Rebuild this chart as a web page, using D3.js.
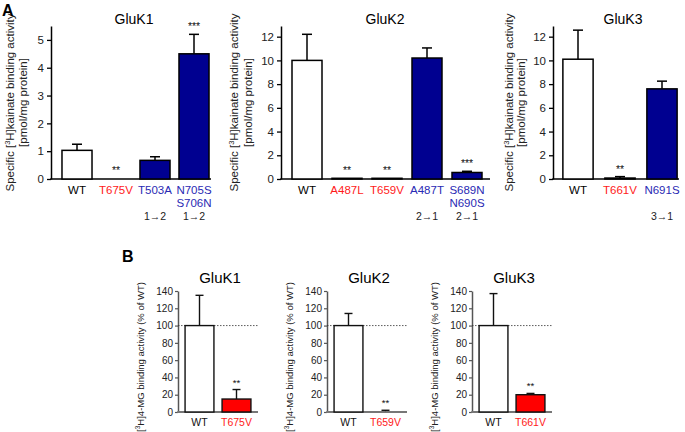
<!DOCTYPE html>
<html><head><meta charset="utf-8">
<script src="https://cdn.jsdelivr.net/npm/d3@7/dist/d3.min.js"></script>
<style>body{margin:0;background:#fff}svg{display:block}text{font-family:Arial,"Liberation Sans",sans-serif}</style>
</head><body><svg id="c" width="685" height="432"></svg>
<script>
// ---- Panel A data ----
const k1Cats = ["WT", "T675V", "T503A", "N705S|S706N"];
const k1Vals = [1.03, 0, 0.67, 4.5];
const k1Errs = [1.25, 0, 0.8, 5.2];
const k1Sig = ["", "**", "", "***"];
const k1Swap = ["", "", "1→2", "1→2"];
const k1Kind = ["wt", "red", "blue", "blue"];

const k2Cats = ["WT", "A487L", "T659V", "A487T", "S689N|N690S"];
const k2Vals = [10.0, 0.06, 0.06, 10.2, 0.55];
const k2Errs = [12.2, 0.06, 0.06, 11.05, 0.65];
const k2Sig = ["", "**", "**", "", "***"];
const k2Swap = ["", "", "", "2→1", "2→1"];
const k2Kind = ["wt", "red", "red", "blue", "blue"];

const k3Cats = ["WT", "T661V", "N691S"];
const k3Vals = [10.1, 0.08, 7.6];
const k3Errs = [12.55, 0.2, 8.25];
const k3Sig = ["", "**", ""];
const k3Swap = ["", "", "3→1"];
const k3Kind = ["wt", "red", "blue"];

const aTicks1 = [0, 1, 2, 3, 4, 5];
const aTicks23 = [0, 2, 4, 6, 8, 10, 12];

// ---- Panel B data ----
const bCats1 = ["WT", "T675V"], bVals1 = [100, 15], bErrs1 = [135, 26], bSig1 = ["", "**"];
const bCats2 = ["WT", "T659V"], bVals2 = [100, 1], bErrs2 = [114, 2], bSig2 = ["", "**"];
const bCats3 = ["WT", "T661V"], bVals3 = [100, 20], bErrs3 = [137, 21.5], bSig3 = ["", "**"];
const bTicks = [0, 20, 40, 60, 80, 100, 120, 140];

const svg = d3.select("#c");
const RED = "#ff1a1a", BLUE = "#2a2ab4", NAVY = "#000090";
const labelColor = k => k === "red" ? RED : k === "blue" ? BLUE : "#000";

function stars(g, cx, yy, s, fs) {
  g.append("text").attr("transform", `translate(${cx},${yy}) rotate(0.01)`).attr("text-anchor", "middle")
    .attr("font-size", fs).attr("fill", "#111").text(s);
}

function panelA(o) {
  const g = svg.append("g");
  const y = d3.scaleLinear().domain([0, o.max]).range([179, 26]);
  const x = d3.scaleBand().domain(o.cats).range([o.r0, o.r1]).paddingInner(o.pad).paddingOuter(o.pad / 2);
  const ax = d3.axisLeft(y).tickValues(o.ticks).tickFormat(d3.format("d")).tickSize(4).tickPadding(3).tickSizeOuter(0);
  const ya = g.append("g").attr("transform", `translate(${o.ax},0)`).call(ax);
  ya.select(".domain").attr("stroke", "#000").attr("stroke-width", 1.5);
  ya.selectAll(".tick line").attr("stroke", "#000").attr("stroke-width", 1.3);
  ya.selectAll(".tick text").attr("font-size", 11.5).attr("fill", "#222");
  g.append("line").attr("x1", o.ax - 0.75).attr("x2", o.xEnd).attr("y1", y(0)).attr("y2", y(0))
    .attr("stroke", "#000").attr("stroke-width", 1.5);
  o.cats.forEach((c, i) => {
    const v = o.vals[i], e = o.errs[i], cx = x(c) + x.bandwidth() / 2;
    if (v > 0) {
      g.append("rect").attr("x", x(c)).attr("width", x.bandwidth())
        .attr("y", y(v)).attr("height", y(0) - y(v))
        .attr("fill", o.kind[i] === "wt" ? "#fff" : NAVY).attr("stroke", "#000").attr("stroke-width", 1.5);
    }
    if (e > v) {
      g.append("line").attr("x1", cx).attr("x2", cx).attr("y1", y(v)).attr("y2", y(e)).attr("stroke", "#000").attr("stroke-width", 1.5);
      g.append("line").attr("x1", cx - 5).attr("x2", cx + 5).attr("y1", y(e)).attr("y2", y(e)).attr("stroke", "#000").attr("stroke-width", 1.5);
    }
    if (o.sig[i]) stars(g, cx, Math.min(y(e), y(0) - 1) - 4, o.sig[i], 10.5);
    const lines = c.split("|");
    lines.forEach((t, j) => {
      g.append("text").attr("x", cx).attr("y", 194 + j * 13).attr("text-anchor", "middle")
        .attr("font-size", 11.5).attr("fill", labelColor(o.kind[i])).text(t);
    });
    if (o.swap[i]) {
      g.append("text").attr("x", cx).attr("y", 220).attr("text-anchor", "middle")
        .attr("font-size", 10.5).attr("fill", "#222").text(o.swap[i]);
    }
  });
  g.append("text").attr("x", o.tx).attr("y", 24).attr("text-anchor", "middle").attr("font-size", 14).text(o.title);
  const cy = (179 + 26) / 2;
  const t1 = g.append("text").attr("transform", `translate(${o.ax - o.l1},${cy}) rotate(-90)`)
    .attr("text-anchor", "middle").attr("font-size", 11.5).attr("fill", "#222");
  t1.append("tspan").text("Specific [");
  t1.append("tspan").attr("font-size", 7.5).attr("dy", -4).text("3");
  t1.append("tspan").attr("dy", 4).text("H]kainate binding activity");
  g.append("text").attr("transform", `translate(${o.ax - o.l2},${cy}) rotate(-90)`)
    .attr("text-anchor", "middle").attr("font-size", 11.5).attr("fill", "#222").text("[pmol/mg protein]");
}

panelA({title: "GluK1", cats: k1Cats, vals: k1Vals, errs: k1Errs, sig: k1Sig, swap: k1Swap, kind: k1Kind,
  max: 5.5, ticks: aTicks1, ax: 51, r0: 57.5, r1: 213.5, pad: 0.23, xEnd: 211, tx: 134, l1: 37, l2: 24});
panelA({title: "GluK2", cats: k2Cats, vals: k2Vals, errs: k2Errs, sig: k2Sig, swap: k2Swap, kind: k2Kind,
  max: 12.9, ticks: aTicks23, ax: 281, r0: 287, r1: 487, pad: 0.25, xEnd: 490, tx: 385, l1: 43, l2: 29});
panelA({title: "GluK3", cats: k3Cats, vals: k3Vals, errs: k3Errs, sig: k3Sig, swap: k3Swap, kind: k3Kind,
  max: 12.9, ticks: aTicks23, ax: 553, r0: 557, r1: 683, pad: 0.28, xEnd: 679, tx: 623, l1: 40, l2: 28});

function panelB(o) {
  const g = svg.append("g");
  const y = d3.scaleLinear().domain([0, 140]).range([412, 291]);
  const x = d3.scaleBand().domain(o.cats).range([o.ax + 3, o.ax + 3 + 2 * 37]).paddingInner(0.22).paddingOuter(0.11);
  const ax = d3.axisLeft(y).tickValues(bTicks).tickFormat(d3.format("d")).tickSize(3).tickPadding(2).tickSizeOuter(0);
  const ya = g.append("g").attr("transform", `translate(${o.ax},0)`).call(ax);
  ya.select(".domain").attr("stroke", "#555").attr("stroke-width", 1.5);
  ya.selectAll(".tick line").attr("stroke", "#555").attr("stroke-width", 1.2);
  ya.selectAll(".tick text").attr("font-size", 10).attr("fill", "#222");
  g.append("line").attr("x1", o.ax).attr("x2", o.ax + 80).attr("y1", y(100)).attr("y2", y(100))
    .attr("stroke", "#333").attr("stroke-width", 0.8).attr("stroke-dasharray", "1.5,1.5");
  g.append("line").attr("x1", o.ax - 0.75).attr("x2", o.ax + 80).attr("y1", y(0)).attr("y2", y(0))
    .attr("stroke", "#777").attr("stroke-width", 2);
  o.cats.forEach((c, i) => {
    const v = o.vals[i], e = o.errs[i], cx = x(c) + x.bandwidth() / 2;
    if (v > 1.5) {
      g.append("rect").attr("x", x(c)).attr("width", x.bandwidth()).attr("y", y(v)).attr("height", y(0) - y(v))
        .attr("fill", i === 0 ? "#fff" : "#ff0000").attr("stroke", "#111").attr("stroke-width", 1.4);
    }
    g.append("line").attr("x1", cx).attr("x2", cx).attr("y1", y(v)).attr("y2", y(e)).attr("stroke", "#111").attr("stroke-width", 1.4);
    g.append("line").attr("x1", cx - 4).attr("x2", cx + 4).attr("y1", y(e)).attr("y2", y(e)).attr("stroke", "#111").attr("stroke-width", 1.4);
    if (o.sig[i]) stars(g, cx, y(e) - 4, o.sig[i], 9.5);
    g.append("text").attr("x", cx).attr("y", 426).attr("text-anchor", "middle").attr("font-size", 10.5)
      .attr("fill", i === 0 ? "#111" : RED).text(c);
  });
  g.append("text").attr("x", o.ax + 42).attr("y", 283).attr("text-anchor", "middle").attr("font-size", 15).text(o.title);
  const t = g.append("text").attr("transform", `translate(${o.ax - 34},357) rotate(-90)`)
    .attr("text-anchor", "middle").attr("font-size", 9.5).attr("fill", "#222");
  t.append("tspan").text("[");
  t.append("tspan").attr("font-size", 6.5).attr("dy", -4).text("3");
  t.append("tspan").attr("dy", 4).text("H]4-MG binding activity (% of WT)");
}
panelB({title: "GluK1", cats: bCats1, vals: bVals1, errs: bErrs1, sig: bSig1, ax: 178});
panelB({title: "GluK2", cats: bCats2, vals: bVals2, errs: bErrs2, sig: bSig2, ax: 327});
panelB({title: "GluK3", cats: bCats3, vals: bVals3, errs: bErrs3, sig: bSig3, ax: 472});

svg.append("text").attr("x", 2).attr("y", 16).attr("font-size", 16).attr("font-weight", "bold").text("A");
svg.append("text").attr("x", 122).attr("y", 262).attr("font-size", 16).attr("font-weight", "bold").text("B");
</script></body></html>
